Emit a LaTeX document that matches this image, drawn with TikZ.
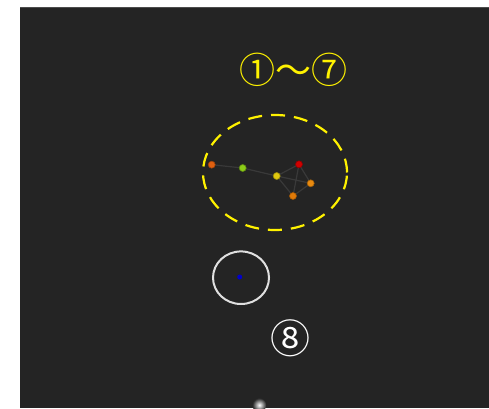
\documentclass[tikz,border=0pt]{standalone}
\usepackage{fontspec}
\usetikzlibrary{shapes.geometric}
\newfontfamily\cjk{Noto Sans CJK JP}
\begin{document}
\begin{tikzpicture}[x=1pt,y=-1pt,
  vtx/.style={circle,inner sep=0pt,minimum size=7pt,draw=#1!70!black,line width=0.6pt,fill=#1},
  edge/.style={draw=gray!45!black,line width=1.2pt}]
\useasboundingbox (0,0) rectangle (489,408);
\fill[white] (0,0) rectangle (489,408);
\fill[black!86] (20,7) rectangle (489,408);
\draw[gray!60!black,line width=0.8pt] (20,7.4) -- (489,7.4);
\definecolor{c1}{HTML}{E06010}
\definecolor{c2}{HTML}{8CCC18}
\definecolor{c3}{HTML}{E0C810}
\definecolor{c4}{HTML}{D00000}
\definecolor{c5}{HTML}{E88A10}
\definecolor{c6}{HTML}{E07A08}
\coordinate (a) at (211.7,164.7);
\coordinate (b) at (242.7,168);
\coordinate (c) at (276.7,176);
\coordinate (d) at (299,164.3);
\coordinate (e) at (310.7,183.3);
\coordinate (f) at (293,196);
\path[edge] (a) -- (b) (b) -- (c) (c) -- (d) (c) -- (e) (c) -- (f) (d) -- (e) (d) -- (f) (f) -- (e);
\node[vtx=c1] (na) at (a) {};
\node[vtx=c2] (nb) at (b) {};
\node[vtx=c3] (nc) at (c) {};
\node[vtx=c4] (nd) at (d) {};
\node[vtx=c5] (ne) at (e) {};
\node[vtx=c6] (nf) at (f) {};
\node[draw=yellow,dash pattern=on 14pt off 9pt,line width=2.2pt,ellipse,minimum width=144pt,minimum height=115pt,inner sep=0pt] (ell) at (275,172.5) {};
\node[text=yellow,font=\cjk\fontsize{36}{36}\selectfont,inner sep=0pt] (t1) at (293,70) {①～⑦};
\draw[white!88!black,line width=2pt] (241,277.7) ellipse [x radius=28,y radius=26.3];
\node[circle,fill=blue!80!black,inner sep=0pt,minimum size=5pt] (bd) at (239.7,277) {};
\node[text=white,font=\cjk\fontsize{40}{40}\selectfont,inner sep=0pt] (t8) at (290,338) {⑧};
\shade[inner color=white,outer color=black!86] (259.3,405) circle (7);
\end{tikzpicture}
\end{document}
